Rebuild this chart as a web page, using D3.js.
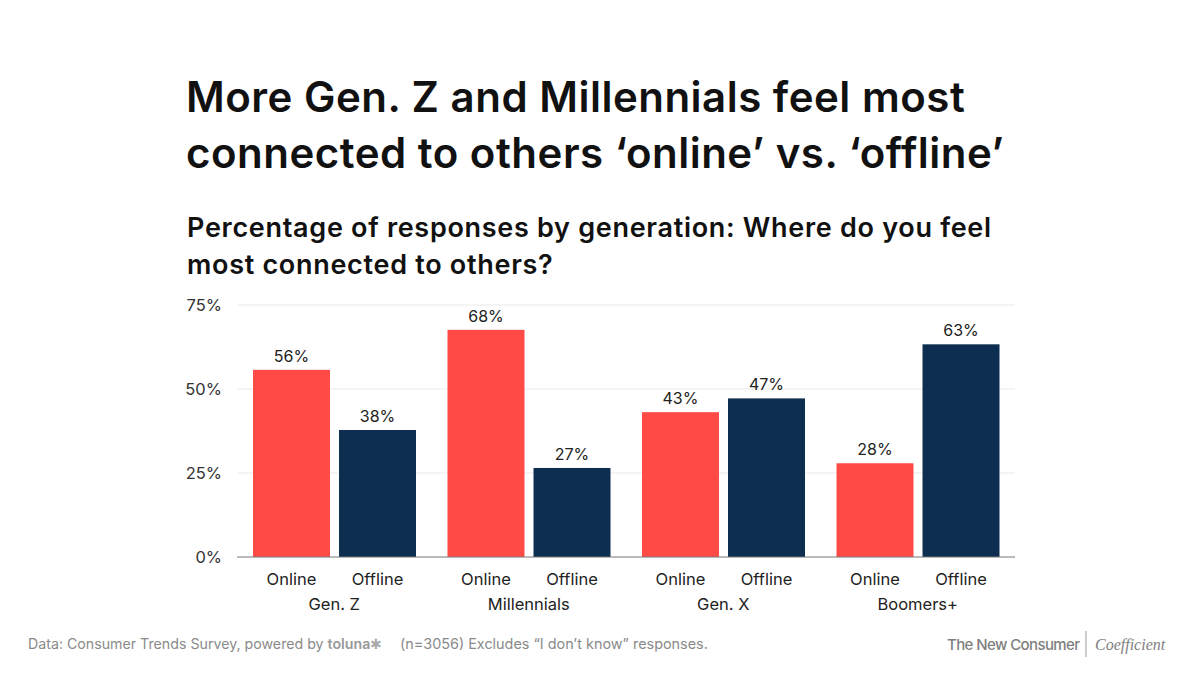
<!DOCTYPE html>
<html><head><meta charset="utf-8">
<script src="https://cdn.jsdelivr.net/npm/d3@7/dist/d3.min.js"></script>
<style>
body{margin:0;background:#fff;}
svg{display:block;font-family:Inter,"Noto Sans",sans-serif;}
</style></head>
<body><svg id="c" width="1200" height="675"></svg>
<script>
const generations = ["Gen. Z","Millennials","Gen. X","Boomers+"];
const seriesNames = ["Online","Offline"];
const onlineValues = [55.7, 67.6, 43.1, 27.9];
const offlineValues = [37.8, 26.5, 47.2, 63.3];
const yTicks = [0,25,50,75];
const colors = {Online:"#FF4A46", Offline:"#0D2E51"};

const svg = d3.select("#c");
const M = {left:237, right:1015, top:305, bottom:557};

// Title
const title = ["More Gen. Z and Millennials feel most","connected to others \u2018online\u2019 vs. \u2018offline\u2019"];
svg.selectAll("text.title").data(title).join("text").attr("class","title")
  .attr("x",186).attr("y",(d,i)=>112+i*56)
  .attr("font-size",42).attr("font-weight",600).attr("letter-spacing",0.5).attr("fill","#111").text(d=>d);
const sub = ["Percentage of responses by generation: Where do you feel","most connected to others?"];
svg.selectAll("text.sub").data(sub).join("text").attr("class","sub")
  .attr("x",187).attr("y",(d,i)=>237+i*37)
  .attr("font-size",27).attr("font-weight",600).attr("letter-spacing",0.7).attr("fill","#111").text(d=>d);

const data = generations.map((g,i)=>({gen:g, values:[
  {s:"Online", v:onlineValues[i]},{s:"Offline", v:offlineValues[i]}]}));

const x0 = d3.scaleBand().domain(generations).range([M.left,M.right]).paddingInner(0).paddingOuter(0);
const gw = x0.bandwidth();
const x1 = d3.scaleBand().domain(seriesNames).range([16, gw-15.5]).paddingInner(0.105).paddingOuter(0);
const y = d3.scaleLinear().domain([0,75]).range([M.bottom,M.top]);

// grid
svg.append("g").selectAll("line").data(yTicks.filter(t=>t>0)).join("line")
  .attr("x1",M.left).attr("x2",M.right).attr("y1",d=>y(d)).attr("y2",d=>y(d))
  .attr("stroke","#e9e9e9").attr("stroke-width",1.2);
// y labels
svg.append("g").selectAll("text").data(yTicks).join("text")
  .attr("x",222).attr("y",d=>y(d)+6).attr("text-anchor","end")
  .attr("font-size",16.5).attr("fill","#333").text(d=>d+"%");

const groups = svg.append("g").selectAll("g").data(data).join("g")
  .attr("transform",d=>`translate(${x0(d.gen)},0)`);
groups.selectAll("rect").data(d=>d.values).join("rect")
  .attr("x",d=>x1(d.s)).attr("width",x1.bandwidth())
  .attr("y",d=>y(d.v)).attr("height",d=>y(0)-y(d.v)).attr("fill",d=>colors[d.s]);
groups.selectAll("text.val").data(d=>d.values).join("text").attr("class","val")
  .attr("x",d=>x1(d.s)+x1.bandwidth()/2).attr("y",d=>y(d.v)-8)
  .attr("text-anchor","middle").attr("font-size",16).attr("fill","#222")
  .text(d=>Math.round(d.v)+"%");
groups.selectAll("text.ser").data(d=>d.values).join("text").attr("class","ser")
  .attr("x",d=>x1(d.s)+x1.bandwidth()/2).attr("y",585)
  .attr("text-anchor","middle").attr("font-size",16.5).attr("fill","#222").text(d=>d.s);
groups.append("text").attr("x",gw/2).attr("y",610).attr("text-anchor","middle")
  .attr("font-size",16.5).attr("fill","#222").text(d=>d.gen);

// baseline
svg.append("line").attr("x1",M.left).attr("x2",M.right).attr("y1",y(0)).attr("y2",y(0))
  .attr("stroke","#777").attr("stroke-width",1.2);

// footer
const foot = svg.append("text").attr("x",28).attr("y",649).attr("font-size",14.2).attr("fill","#8a8a8a");
foot.append("tspan").text("Data: Consumer Trends Survey, powered by ");
foot.append("tspan").attr("font-weight",600).attr("fill","#999").text("toluna");
foot.append("tspan").attr("fill","#aaa").text("\u2731");
svg.append("text").attr("x",400).attr("y",649).attr("font-size",14.4).attr("fill","#8a8a8a")
  .text("(n=3056) Excludes \u201cI don\u2019t know\u201d responses.");
svg.append("text").attr("x",947).attr("y",650).attr("font-size",15).attr("font-weight",500)
  .attr("letter-spacing",-0.6).attr("fill","#808080").text("The New Consumer");
svg.append("line").attr("x1",1086).attr("x2",1086).attr("y1",631).attr("y2",657).attr("stroke","#999");
svg.append("text").attr("x",1095).attr("y",650).attr("font-size",16).attr("font-style","italic")
  .attr("font-family","'Liberation Serif','DejaVu Serif',serif").attr("fill","#808080").text("Coefficient");
</script></body></html>
